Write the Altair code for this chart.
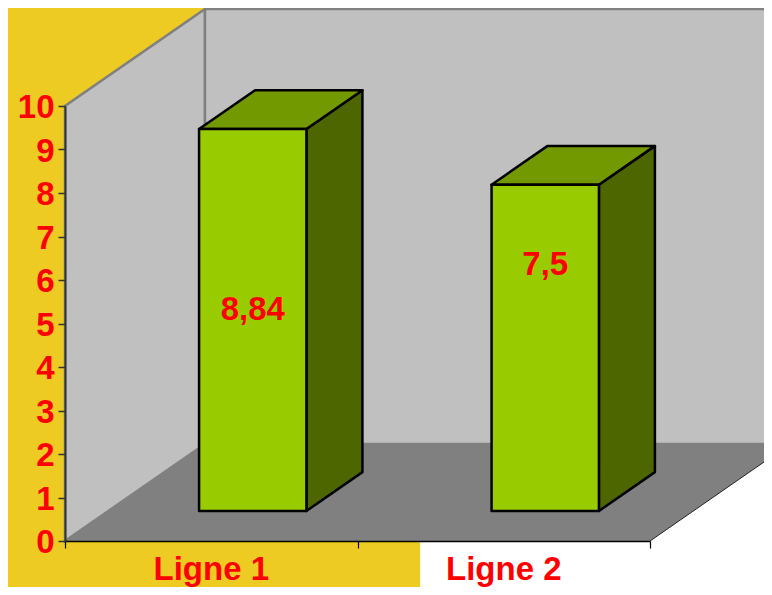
import altair as alt
import pandas as pd

# --- values
categories = ["Ligne 1", "Ligne 2"]
bar_heights = [8.78, 7.5]
bar_labels = ["8,84", "7,5"]
label_levels = [5.31, 6.35]
y_ticks = list(range(0, 11))

# --- oblique projection of the 3D box, in axis units
DEPTH_X = 0.4786
DEPTH_Y = 2.23
BAR_X0, BAR_X1 = 0.31, 0.677
BAR_Z0, BAR_Z1 = 0.31, 0.71

YELLOW = "#EDCB22"
WALL = "#C0C0C0"
FLOOR = "#808080"
FRONT = "#99CC00"
TOP = "#739900"
SIDE = "#4D6600"
FONT = "Liberation Sans"
RED = "#FF0000"

xs = alt.Scale(domain=[0, 2], nice=False, zero=False)
ys = alt.Scale(domain=[0, 10], nice=False, zero=False)
X = lambda f="x": alt.X(f"{f}:Q", scale=xs, axis=None)
Y = lambda f="y": alt.Y(f"{f}:Q", scale=ys, axis=None)
X2 = lambda f="x2": alt.X2(f"{f}:Q")
Y2 = lambda f="y2": alt.Y2(f"{f}:Q")


def px(x, z):
    return x + DEPTH_X * z


def py(v, z):
    return v + DEPTH_Y * z


backdrop = alt.Chart(pd.DataFrame([{"x": -0.2, "x2": 1.214, "y": -1.3, "y2": 12.3}])).mark_rect(
    color=YELLOW, strokeWidth=0
).encode(x=X(), x2=X2(), y=Y(), y2=Y2())

left_wall = alt.Chart(pd.DataFrame([
    {"x": 0, "y": py(0, 0), "y2": py(10, 0)},
    {"x": px(0, 1), "y": py(0, 1), "y2": py(10, 1)},
])).mark_area(color=WALL, stroke=FLOOR, strokeWidth=2.5).encode(x=X(), y=Y(), y2=Y2())

back_wall = alt.Chart(pd.DataFrame([
    {"x": px(0, 1), "x2": 2.8, "y": py(0, 1), "y2": py(10, 1)}
])).mark_rect(color=WALL, stroke=FLOOR, strokeWidth=2.5).encode(x=X(), x2=X2(), y=Y(), y2=Y2())

floor = alt.Chart(pd.DataFrame([
    {"y": py(0, 0), "x": px(0, 0), "x2": px(2, 0)},
    {"y": py(0, 1), "x": px(0, 1), "x2": px(2, 1)},
])).mark_area(color=FLOOR, orient="horizontal").encode(y=Y(), x=X(), x2=X2())

floor_edge = alt.Chart(pd.DataFrame([
    {"x": px(2, 0), "y": py(0, 0)},
    {"x": px(2, 1), "y": py(0, 1)},
])).mark_line(color="#222222", strokeWidth=1).encode(x=X(), y=Y())

front_rows, side_rows, top_rows = [], [], []
for i, h in enumerate(bar_heights):
    a, b = i + BAR_X0, i + BAR_X1
    front_rows.append({"x": px(a, BAR_Z0), "x2": px(b, BAR_Z0), "y": py(0, BAR_Z0), "y2": py(h, BAR_Z0)})
    side_rows += [
        {"bar": i, "x": px(b, BAR_Z0), "y": py(0, BAR_Z0), "y2": py(h, BAR_Z0)},
        {"bar": i, "x": px(b, BAR_Z1), "y": py(0, BAR_Z1), "y2": py(h, BAR_Z1)},
    ]
    top_rows += [
        {"bar": i, "y": py(h, BAR_Z0), "x": px(a, BAR_Z0), "x2": px(b, BAR_Z0)},
        {"bar": i, "y": py(h, BAR_Z1), "x": px(a, BAR_Z1), "x2": px(b, BAR_Z1)},
    ]

STROKE = dict(stroke="#000000", strokeWidth=2.5, strokeJoin="round")
sides = alt.Chart(pd.DataFrame(side_rows)).mark_area(color=SIDE, **STROKE).encode(
    x=X(), y=Y(), y2=Y2(), detail="bar:N")
tops = alt.Chart(pd.DataFrame(top_rows)).mark_area(color=TOP, orient="horizontal", **STROKE).encode(
    y=Y(), x=X(), x2=X2(), detail="bar:N")
fronts = alt.Chart(pd.DataFrame(front_rows)).mark_rect(color=FRONT, **STROKE).encode(
    x=X(), x2=X2(), y=Y(), y2=Y2())

text_style = dict(font=FONT, fontWeight="bold", fontSize=33, color=RED)

value_text = alt.Chart(pd.DataFrame([
    {"x": px(i + (BAR_X0 + BAR_X1) / 2, BAR_Z0), "y": lv, "t": t}
    for i, (lv, t) in enumerate(zip(label_levels, bar_labels))
])).mark_text(align="center", baseline="middle", **text_style).encode(x=X(), y=Y(), text="t:N")

cat_text = alt.Chart(pd.DataFrame([
    {"x": i + 0.5, "y": -0.897, "t": c} for i, c in enumerate(categories)
])).mark_text(align="center", baseline="alphabetic", **text_style).encode(x=X(), y=Y(), text="t:N")

axes = alt.Chart(pd.DataFrame([{"x": 0, "y": 0}])).mark_point(opacity=0).encode(
    x=alt.X("x:Q", scale=xs, title=None, axis=alt.Axis(
        values=[0, 1, 2], labels=False, grid=False, domainColor="#000000", domainWidth=1.5,
        tickColor="#000000", tickSize=7, tickWidth=1.2, title=None, zindex=1)),
    y=alt.Y("y:Q", scale=ys, title=None, axis=alt.Axis(
        values=y_ticks, grid=False, domainColor="#333333", domainWidth=2, tickColor="#333333",
        tickSize=7, tickWidth=1.5, labelFont=FONT, labelFontWeight="bold", labelFontSize=33,
        labelColor=RED, labelPadding=4, labelOverlap=False, labelOffset=1.5, format="d",
        title=None, zindex=1)),
)

chart = alt.layer(
    backdrop, left_wall, back_wall, floor, floor_edge, sides, tops, fronts, axes, value_text, cat_text
).resolve_axis(x="independent", y="independent").properties(
    width=585, height=435, autosize="none",
    padding={"left": 57, "top": 98, "right": 114, "bottom": 46},
    background="#FFFFFF",
).configure_view(strokeWidth=0)

chart.save("out.html", embed_options={"renderer": "svg", "actions": False})
